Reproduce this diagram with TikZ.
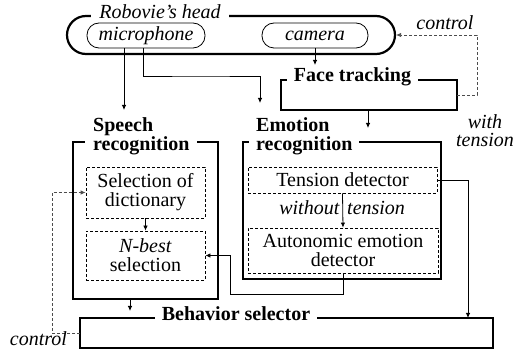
\documentclass[tikz,border=0pt]{standalone}
\usepackage{fontspec}
\setmainfont{Liberation Serif}
\usetikzlibrary{arrows.meta}
\begin{document}
\begin{tikzpicture}[x=1pt,y=-1pt,
  font=\fontsize{20}{19}\selectfont,
  thickbox/.style={draw, line width=2.4pt},
  thinline/.style={line width=0.8pt},
  arr/.style={thinline, -{Latex[length=5pt,width=4.5pt]}},
  darr/.style={arr, dashed, dash pattern=on 3pt off 2pt, draw=black!70},
  dbox/.style={draw, line width=0.8pt, dash pattern=on 3pt off 2pt, align=center, inner sep=0pt},
  pill/.style={draw, thinline, rounded corners=12pt, minimum height=25pt, inner sep=0pt, font=\fontsize{20}{19}\selectfont\itshape},
  title/.style={fill=white, inner xsep=7pt, inner ysep=0pt, font=\fontsize{20}{19}\selectfont\bfseries, align=left},
  ilabel/.style={font=\fontsize{20}{18}\selectfont\itshape, inner sep=0pt, align=center}]
\useasboundingbox (0,0) rectangle (515,350);

% Robovie's head
\node[thickbox, line width=2.2pt, rounded corners=19pt, minimum width=328pt, minimum height=38pt, inner sep=0pt] (head) at (231,35) {};
\node[ilabel, fill=white, inner xsep=8pt, anchor=base] (headt) at (160,19) {Robovie's head};
\node[pill, minimum width=118pt] (mic) at (146,35.5) {microphone};
\node[pill, minimum width=106pt] (cam) at (315,35.5) {camera};

% Face tracking
\draw[thickbox] (281,80) rectangle (457,110);
\node[title, anchor=base] (ft) at (352.5,82) {Face tracking};

% Speech recognition
\draw[thickbox] (73,142) rectangle (218,299);
\node[title, anchor=south west, inner xsep=8pt] (sr) at (85,155.5) {Speech\\recognition};
\node[dbox, minimum width=119pt, minimum height=51pt] (sel) at (145.5,192.5) {Selection of\\dictionary};
\node[dbox, minimum width=119pt, minimum height=49pt] (nb) at (145.5,255.5) {\textit{N-best}\\selection};

% Emotion recognition
\draw[thickbox] (243,142) rectangle (441,279);
\node[title, anchor=south west] (er) at (249,155.5) {Emotion\\recognition};
\node[dbox, minimum width=189pt, minimum height=26pt] (ten) at (342.5,180) {Tension detector};
\node[dbox, minimum width=190pt, minimum height=45pt] (auto) at (343,250.5) {Autonomic emotion\\detector};

% Behavior selector
\draw[thickbox] (80,318) rectangle (493,348);
\node[title, anchor=base] (bs) at (236,321) {Behavior selector};

% coordinates
\coordinate (m1) at (124,48);
\coordinate (m1e) at (124,110);
\coordinate (m2) at (143,48);
\coordinate (m2e) at (260,103);
\coordinate (c1e) at (315,65);
\coordinate (f1) at (368,110);
\coordinate (f1e) at (368,128);
\coordinate (fr) at (457,95);
\coordinate (s1) at (130,299);
\coordinate (s1e) at (130,311);
\coordinate (bl) at (80,333);
\coordinate (wt) at (468,318);

% connectors
\draw[arr] (m1) -- (m1e);
\draw[arr] (m2) |- (200,76) -| (m2e);
\draw[arr] (cam.south) -- (c1e);
\draw[arr] (f1) -- (f1e);
\draw[darr] (fr) -- (477,95) |- (head.east);
\node[ilabel] (ctl1) at (445,23) {control};
\draw[arr] (sel.south) -- (nb.north);
\draw[arr] (s1) -- (s1e);
\draw[darr] (bl) -- (52,333) |- (sel.west);
\node[ilabel, anchor=base] (ctl2) at (38.5,345.5) {control};
\draw[arr] (ten.south) -- (auto.north);
\node[ilabel, anchor=base east] (wo) at (339.5,215) {without};
\node[ilabel, anchor=base west] (wtn) at (347,215) {tension};
\draw[arr] (ten.east) -| (wt);
\node[ilabel] (wtl) at (485,131) {with\\tension};
\draw[arr] (auto.south) |- (230,294) |- (nb.east);
\end{tikzpicture}
\end{document}
